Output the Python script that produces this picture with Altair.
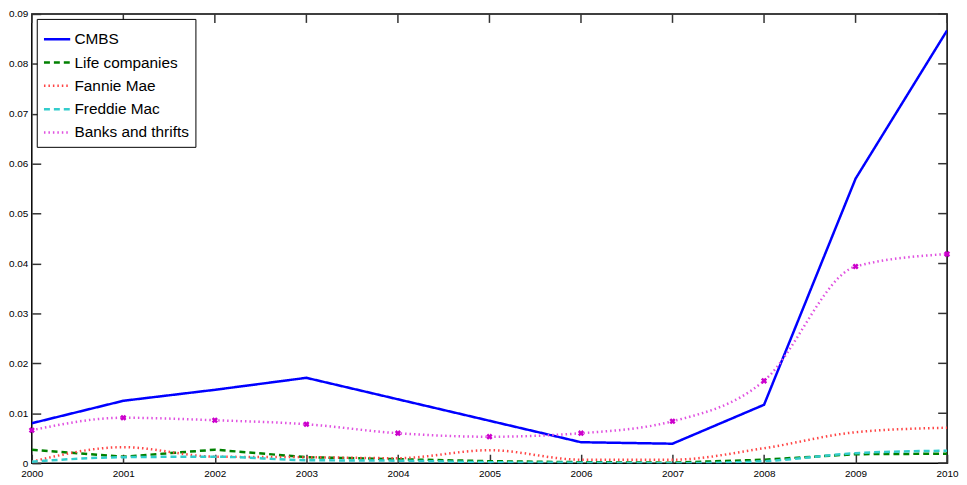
import altair as alt
import pandas as pd

years = [2000, 2001, 2002, 2003, 2004, 2005, 2006, 2007, 2008, 2009, 2010]
series_names = ["CMBS", "Life companies", "Fannie Mae", "Freddie Mac", "Banks and thrifts"]
cmbs = [0.0080, 0.0125, 0.0147, 0.0171, 0.0128, 0.0085, 0.0042, 0.0039, 0.0117, 0.0570, 0.0867]
life = [0.0027, 0.0013, 0.0027, 0.0012, 0.0008, 0.0004, 0.0002, 0.0001, 0.0007, 0.0018, 0.0019]
fannie = [0.0003, 0.0032, 0.0013, 0.0012, 0.0010, 0.0026, 0.0007, 0.0007, 0.0030, 0.0062, 0.0071]
freddie = [0.0003, 0.0012, 0.0013, 0.0006, 0.0005, 0.0002, 0.0001, 0.0000, 0.0004, 0.0020, 0.0025]
banks = [0.0066, 0.0091, 0.0086, 0.0078, 0.0060, 0.0053, 0.0060, 0.0084, 0.0165, 0.0394, 0.0419]
y_ticks = [0, 0.01, 0.02, 0.03, 0.04, 0.05, 0.06, 0.07, 0.08, 0.09]

colors = ["#0000ff", "#008000", "#ff4444", "#33cccc", "#e050e0"]
dashes = [[1, 0], [6, 4], [1.5, 3], [6, 4], [1.5, 3]]
widths = [2.5, 2.5, 1.3, 1.3, 1.5]

rows = []
for name, vals in zip(series_names, [cmbs, life, fannie, freddie, banks]):
    for yr, v in zip(years, vals):
        rows.append({"year": yr, "value": v, "series": name})
df = pd.DataFrame(rows)

W, H = 923, 453
TL = 9
FONT = "Liberation Sans, Arial, Helvetica, sans-serif"
tick_col = "#333333"

x_enc = alt.X("year:Q", scale=alt.Scale(domain=[2000, 2010], nice=False, zero=False),
              axis=alt.Axis(values=years, format="d", title=None, grid=False,
                            ticks=True, tickSize=TL, tickColor=tick_col, tickWidth=1.5, offset=-TL,
                            domain=False, labelFontSize=10, labelPadding=5,
                            labelColor="black", labelFont=FONT, labelFlush=False))
y_enc = alt.Y("value:Q", scale=alt.Scale(domain=[0, 0.09], nice=False),
              axis=alt.Axis(values=y_ticks, format=".2~f", title=None, grid=False,
                            ticks=True, tickSize=TL, tickColor=tick_col, tickWidth=1.5, offset=-TL,
                            domain=False, labelFontSize=10, labelPadding=4,
                            labelColor="black", labelFont=FONT, labelFlush=False))

legend = alt.Legend(title=None, orient="top-left", offset=5, strokeColor="black",
                    fillColor="white", padding=6, symbolType="stroke", symbolSize=700,
                    labelFontSize=15.5, labelFont=FONT, labelColor="black", rowPadding=0.5,
                    labelOffset=3, cornerRadius=0)
color = alt.Color("series:N", scale=alt.Scale(domain=series_names, range=colors), legend=legend, sort=series_names)
dash = alt.StrokeDash("series:N", scale=alt.Scale(domain=series_names, range=dashes), legend=legend, sort=series_names)
sw = alt.StrokeWidth("series:N", scale=alt.Scale(domain=series_names, range=widths), legend=legend, sort=series_names)

base = alt.Chart(df)
lin = base.transform_filter(
    alt.FieldOneOfPredicate(field="series", oneOf=["CMBS", "Life companies"])
).mark_line(clip=True).encode(x=x_enc, y=y_enc, color=color, strokeDash=dash, strokeWidth=sw)
smooth = base.transform_filter(
    alt.FieldOneOfPredicate(field="series", oneOf=["Fannie Mae", "Freddie Mac", "Banks and thrifts"])
).mark_line(interpolate="monotone", clip=True).encode(x=x_enc, y=y_enc, color=color, strokeDash=dash, strokeWidth=sw)

pts = base.transform_filter(alt.datum.series == "Banks and thrifts").mark_point(
    shape="cross", angle=45, filled=True, size=40, color="#cc00cc", opacity=1
).encode(x="year:Q", y="value:Q")

xt = pd.DataFrame({"year": years})
yt = pd.DataFrame({"value": y_ticks})
xtp = alt.Chart(xt).mark_tick(color=tick_col, thickness=1.5, size=TL, orient="vertical", opacity=1).encode(
    x=alt.X("year:Q"), y=alt.value(TL / 2))
yr_ = alt.Chart(yt).mark_tick(color=tick_col, thickness=1.5, size=TL, orient="horizontal", opacity=1).encode(
    y=alt.Y("value:Q"), x=alt.value(W - TL / 2))

chart = alt.layer(lin, smooth, pts, xtp, yr_).properties(
    width=W, height=H,
    autosize=alt.AutoSizeParams(type="none"),
    padding={"left": 24, "top": 4, "right": 12, "bottom": 20},
    background="white",
).configure_view(stroke="black", strokeWidth=1.5)

chart.save("out.html", embed_options={"renderer": "svg", "actions": False})
